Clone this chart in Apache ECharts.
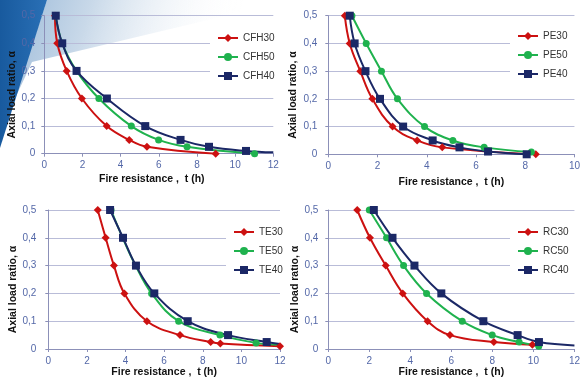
<!DOCTYPE html>
<html><head><meta charset="utf-8">
<script src="https://cdn.jsdelivr.net/npm/echarts/dist/echarts.min.js"></script>
<style>html,body{margin:0;padding:0;background:#fff}#c{width:583px;height:383px}</style>
</head><body><div id="c"></div>
<script>
// ---- data ----
const ratioTicks = [0, 0.1, 0.2, 0.3, 0.4, 0.5];
const xNames = 'Fire resistance ,  t (h)';
const yNames = 'Axial load ratio, \u03b1';

// Panel 1: CFH
const cfh30_t = [0.56, 0.68, 1.17, 1.97, 3.27, 4.45, 5.38, 8.98];
const cfh30_a = [0.5, 0.4, 0.3, 0.2, 0.1, 0.05, 0.025, 0];
const cfh50_t = [0.6, 0.94, 1.69, 2.86, 4.56, 5.99, 7.48, 11.02];
const cfh50_a = [0.5, 0.4, 0.3, 0.2, 0.1, 0.05, 0.025, 0];
const cfh40_t = [0.6, 0.94, 1.69, 3.28, 5.29, 7.14, 8.63, 10.57];
const cfh40_a = [0.5, 0.4, 0.3, 0.2, 0.1, 0.05, 0.025, 0.01];
const cfh40_tail = [12, 0.005];

// Panel 2: PE
const pe30_t = [0.67, 0.87, 1.30, 1.79, 2.61, 3.61, 4.63, 8.43];
const pe30_a = [0.5, 0.4, 0.3, 0.2, 0.1, 0.05, 0.025, 0];
const pe50_t = [0.96, 1.54, 2.16, 2.81, 3.91, 5.06, 6.33, 8.25];
const pe50_a = [0.5, 0.4, 0.3, 0.2, 0.1, 0.05, 0.025, 0.008];
const pe40_t = [0.87, 1.07, 1.51, 2.10, 3.04, 4.24, 5.33, 6.49, 8.06];
const pe40_a = [0.5, 0.4, 0.3, 0.2, 0.1, 0.05, 0.025, 0.01, 0];

// Panel 3: TE
const te30_t = [2.56, 2.97, 3.40, 3.94, 5.11, 6.82, 8.41, 8.91, 12.0];
const te30_a = [0.5, 0.4, 0.3, 0.2, 0.1, 0.05, 0.025, 0.02, 0.01];
const te50_t = [3.25, 3.85, 4.52, 5.35, 6.75, 8.89, 10.76];
const te50_a = [0.5, 0.4, 0.3, 0.2, 0.1, 0.05, 0.022];
const te50_tail = [12, 0.015];
const te40_t = [3.2, 3.87, 4.54, 5.49, 7.22, 9.31, 11.31];
const te40_a = [0.5, 0.4, 0.3, 0.2, 0.1, 0.05, 0.025];
const te40_tail = [12, 0.018];

// Panel 4: RC
const rc30_t = [1.41, 2.03, 2.80, 3.63, 4.84, 5.93, 8.07, 9.95];
const rc30_a = [0.5, 0.4, 0.3, 0.2, 0.1, 0.05, 0.025, 0.015];
const rc50_t = [2.0, 2.84, 3.67, 4.79, 6.53, 7.99, 9.30, 10.26];
const rc50_a = [0.5, 0.4, 0.3, 0.2, 0.1, 0.05, 0.025, 0.01];
const rc40_t = [2.22, 3.13, 4.20, 5.51, 7.56, 9.23, 10.27];
const rc40_a = [0.5, 0.4, 0.3, 0.2, 0.1, 0.05, 0.025];
const rc40_tail = [12, 0.013];

const xMax = [12, 10, 12, 12];

// ---- styling ----
const RED = '#cc1111', GREEN = '#1fb24e', NAVY = '#1b2866';
const AXIS = '#8c90b8', GRIDC = '#b9bcd8', TICKC = '#5468a8';
const FONT = '"Liberation Sans", Arial, sans-serif';

const grids = [
  {left: 44.3, top: 15.7, width: 229, height: 138},
  {left: 328.3, top: 15.7, width: 249, height: 138.6},
  {left: 48.3, top: 210, width: 231.7, height: 139},
  {left: 328.3, top: 210, width: 250.4, height: 139}
];
const xNamePad = [[0, 14, 0, 0], [0, 0, 0, 0], [0, 0, 0, 0], [0, 0, 0, 0]];
const xNameGap = [20, 22, 18, 18];
const yNameGap = [26, 30, 27, 25];
const yLabMargin = [9, 11, 12, 10];

function mk(name, ts, as, tail, color, symbol, size, gi) {
  const data = ts.map((t, i) => [t, as[i]]);
  if (tail) data.push({value: tail, symbol: 'none'});
  return {
    type: 'line', name, xAxisIndex: gi, yAxisIndex: gi, data,
    smooth: 0.4, symbol, symbolSize: size, showAllSymbol: true,
    lineStyle: {color, width: 2}, itemStyle: {color},
    emphasis: {disabled: true}, animation: false
  };
}

const series = [
  mk('CFH30', cfh30_t, cfh30_a, null, RED, 'diamond', 8, 0),
  mk('CFH50', cfh50_t, cfh50_a, null, GREEN, 'circle', 7, 0),
  mk('CFH40', cfh40_t, cfh40_a, cfh40_tail, NAVY, 'rect', 8, 0),
  mk('PE30', pe30_t, pe30_a, null, RED, 'diamond', 8, 1),
  mk('PE50', pe50_t, pe50_a, null, GREEN, 'circle', 7, 1),
  mk('PE40', pe40_t, pe40_a, null, NAVY, 'rect', 8, 1),
  mk('TE30', te30_t, te30_a, null, RED, 'diamond', 8, 2),
  mk('TE50', te50_t, te50_a, te50_tail, GREEN, 'circle', 7, 2),
  mk('TE40', te40_t, te40_a, te40_tail, NAVY, 'rect', 8, 2),
  mk('RC30', rc30_t, rc30_a, null, RED, 'diamond', 8, 3),
  mk('RC50', rc50_t, rc50_a, null, GREEN, 'circle', 7, 3),
  mk('RC40', rc40_t, rc40_a, rc40_tail, NAVY, 'rect', 8, 3)
];

const xAxis = grids.map((g, i) => ({
  type: 'value', gridIndex: i, min: 0, max: xMax[i], interval: 2,
  name: xNames, nameLocation: 'middle', nameGap: xNameGap[i],
  nameTextStyle: {fontFamily: FONT, fontSize: 10.5, fontWeight: 'bold', color: '#111', padding: xNamePad[i]},
  axisLine: {show: true, onZero: false, lineStyle: {color: AXIS, width: 1}},
  axisTick: {show: true, length: 3, lineStyle: {color: AXIS}},
  axisLabel: {fontFamily: FONT, fontSize: 10, color: TICKC, margin: 7},
  splitLine: {show: false}
}));
const yAxis = grids.map((g, i) => ({
  type: 'value', gridIndex: i, min: 0, max: 0.5, interval: 0.1,
  name: yNames, nameLocation: 'middle', nameGap: yNameGap[i],
  nameTextStyle: {fontFamily: FONT, fontSize: 10.5, fontWeight: 'bold', color: '#111', padding: [0, 20, 0, 0]},
  axisLine: {show: true, lineStyle: {color: AXIS, width: 1}},
  axisTick: {show: true, length: 3, lineStyle: {color: AXIS}},
  axisLabel: {fontFamily: FONT, fontSize: 10, color: TICKC, margin: yLabMargin[i],
    formatter: v => v === 0 ? '0' : v.toFixed(1).replace('.', ',')},
  splitLine: {show: true, lineStyle: {color: GRIDC, width: 1}}
}));

const legendPos = [[210, 28], [510, 26], [226, 222], [510, 222]];
const legendNames = [['CFH30', 'CFH50', 'CFH40'], ['PE30', 'PE50', 'PE40'], ['TE30', 'TE50', 'TE40'], ['RC30', 'RC50', 'RC40']];
const legend = legendNames.map((names, i) => ({
  data: names, orient: 'vertical', left: legendPos[i][0], top: legendPos[i][1],
  padding: [5, 8, 5, 7], itemGap: 9, itemWidth: 20, itemHeight: 10,
  backgroundColor: '#ffffff', selectedMode: false,
  textStyle: {fontFamily: FONT, fontSize: 10, color: '#333'}
}));

const graphic = [
  {type: 'polygon', z: -10, silent: true,
   shape: {points: [[47, 0], [292, 0], [32, 62], [12, 105]]},
   style: {fill: new echarts.graphic.LinearGradient(0, 0, 0.75, 0.65, [
     {offset: 0, color: '#9dbbd9'}, {offset: 0.35, color: '#c9d9e9'}, {offset: 1, color: 'rgba(255,255,255,0)'}])}},
  {type: 'polygon', z: -9, silent: true,
   shape: {points: [[0, 0], [47, 0], [0, 148]]},
   style: {fill: new echarts.graphic.LinearGradient(0, 0, 1, 0, [
     {offset: 0, color: '#185a9e'}, {offset: 1, color: '#2a70b6'}])}}
];

const chart = echarts.init(document.getElementById('c'), null, {renderer: 'canvas'});
chart.setOption({animation: false, grid: grids, xAxis, yAxis, legend, series, graphic});
</script></body></html>
